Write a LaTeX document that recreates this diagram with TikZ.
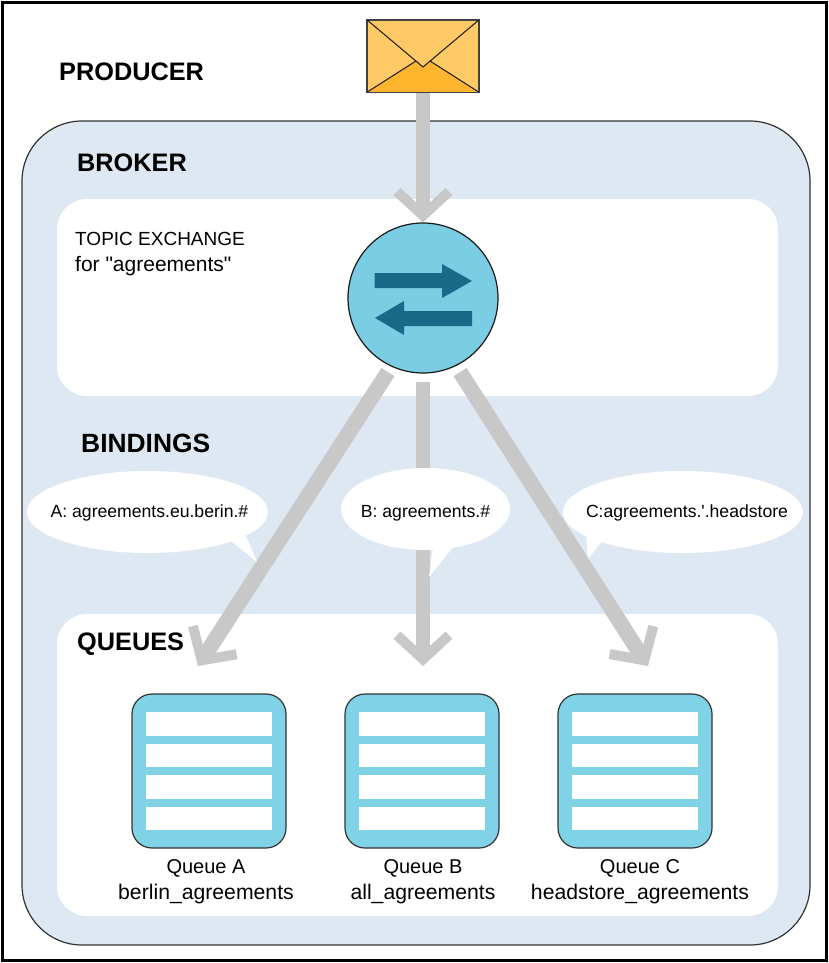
\documentclass[tikz,border=0pt]{standalone}
\usepackage{fontspec}
\setmainfont{Liberation Sans}
\newfontfamily\plainf{Liberation Sans}
\usetikzlibrary{arrows.meta,shapes.geometric,calc}
\definecolor{brokerblue}{HTML}{DDE8F2}
\definecolor{flowgray}{HTML}{C8C8C8}
\definecolor{exchblue}{HTML}{7ACDE3}
\definecolor{queueblue}{HTML}{80D2E6}
\definecolor{darkteal}{HTML}{176B88}
\definecolor{envlight}{HTML}{FFC966}
\definecolor{envdark}{HTML}{FFB62E}
\tikzset{
  x=1pt,y=-1pt,
  heading/.style={anchor=base west,inner sep=0,font=\fontsize{25.3}{25.3}\selectfont\bfseries},
  panel/.style={fill=white,rounded corners=30pt},
  flow/.style={draw=flowgray,line width=14pt,-{Straight Barb[length=24pt,width=52pt,line width=10pt]}},
  flowdiag/.style={draw=flowgray,line width=15.5pt,-{Straight Barb[length=24pt,width=52pt,line width=10pt]}},
  bubble/.style={ellipse,fill=white,inner sep=0},
  bubtext/.style={inner sep=0,text height=10pt,text depth=0pt,font=\fontsize{17.6}{17.6}\selectfont\plainf},
  store/.style={rounded corners=20pt,draw=black!80,line width=1.2pt,fill=queueblue},
  storerow/.style={fill=white,minimum width=126pt,minimum height=23.5pt,inner sep=0},
  storebox/.style={rectangle,minimum width=154pt,minimum height=154pt,inner sep=0,store},
  qlabel/.style={anchor=base,inner sep=0,font=\fontsize{20}{20}\selectfont},
  qname/.style={anchor=base,inner sep=0,font=\fontsize{21.2}{21.2}\selectfont},
  txt/.style={anchor=base west,inner sep=0,font=\fontsize{19}{19}\selectfont\plainf},
}
\newcommand{\queuerows}[1]{%
  \node[storerow] (#1r1) at ($(#1)+(0,-47)$) {};
  \node[storerow] (#1r2) at ($(#1)+(0,-15.5)$) {};
  \node[storerow] (#1r3) at ($(#1)+(0,16)$) {};
  \node[storerow] (#1r4) at ($(#1)+(0,47.5)$) {};
}
\begin{document}
\begin{tikzpicture}
\useasboundingbox (0,0) rectangle (829,963);
\fill[white] (0,0) rectangle (829,963);
\draw[black,line width=3pt] (2.5,2.5) rectangle (826.5,960.5);
% broker
\draw[fill=brokerblue,draw=black!80,line width=1.2pt,rounded corners=60pt] (22,121) rectangle (810,945);
\fill[panel] (57,199) rectangle (778,396);
\fill[panel] (57,614) rectangle (778,916);
% envelope
\node[rectangle,draw=black!75,line width=1.2pt,fill=envlight,minimum width=112pt,minimum height=72pt,inner sep=0] (env) at (423,56) {};
\fill[envdark] (env.south west) -- (416,61) -- (423,67) -- (430,61) -- (env.south east) -- cycle;
\draw[black!85,line width=1.1pt,line join=miter] (env.north west) -- (423,67) -- (env.north east);
\draw[black!85,line width=1.1pt] (env.south west) -- (416,61);
\draw[black!85,line width=1.1pt] (env.south east) -- (430,61);
\draw[black!75,line width=1.2pt] (env.south west) rectangle (env.north east);
% exchange
\node[circle,draw=black!90,line width=1.2pt,fill=exchblue,minimum size=150pt,inner sep=0] (exch) at (423,298) {};
\fill[darkteal] (374.5,273) -- (442,273) -- (442,264) -- (472,281) -- (442,298) -- (442,288) -- (374.5,288) -- cycle;
\fill[darkteal] (472,311) -- (404,311) -- (404,301) -- (375,318) -- (404,335) -- (404,326) -- (472,326) -- cycle;
% connector ends
\coordinate (startA) at (388,372);
\coordinate (startB) at (423,382);
\coordinate (startC) at (460,372);
\coordinate (tipA) at (198,666);
\coordinate (tipB) at (423,666);
\coordinate (tipC) at (648,666);
\draw[flow] (env.south) -- (exch.north);
\draw[flowdiag] (startA) -- (tipA);
\draw[flow] (startB) -- (tipB);
\draw[flowdiag] (startC) -- (tipC);
% bubbles
\node[bubble,minimum width=241pt,minimum height=82pt] (bubA) at (147.5,512) {};
\fill[white] (230,540) -- (257,562) -- (245,534) -- cycle;
\node[bubble,minimum width=169pt,minimum height=82pt] (bubB) at (425.5,509) {};
\fill[white] (433,548) -- (429,577) -- (454,546) -- cycle;
\node[bubble,minimum width=240pt,minimum height=82pt] (bubC) at (683,512) {};
\fill[white] (586,534) -- (588,559) -- (602,541) -- cycle;
\node[bubtext] (lblA) at (149.5,512) {A: agreements.eu.berin.\#};
\node[bubtext] (lblB) at (425.5,512) {B: agreements.\#};
\node[bubtext] (lblC) at (687,512) {C:agreements.'.headstore};
% queues
\node[storebox] (qa) at (209,771) {};
\node[storebox] (qb) at (422,771) {};
\node[storebox] (qc) at (635,771) {};
\queuerows{qa}\queuerows{qb}\queuerows{qc}
\node[qlabel] (qat) at (206,873) {Queue A};
\node[qname] (qan) at (206,899) {berlin\_agreements};
\node[qlabel] (qbt) at (423,873) {Queue B};
\node[qname] (qbn) at (423,899) {all\_agreements};
\node[qlabel] (qct) at (640,873) {Queue C};
\node[qname] (qcn) at (640,899) {headstore\_agreements};
% headings
\node[heading] (hp) at (59,81) {PRODUCER};
\node[heading] (hbr) at (77,171) {BROKER};
\node[heading,font=\fontsize{26.4}{26.4}\selectfont\bfseries] (hbi) at (81,452) {BINDINGS};
\node[heading] (hq) at (77,650) {QUEUES};
\node[txt] (t1) at (75,245) {TOPIC EXCHANGE};
\node[txt,font=\fontsize{21}{21}\selectfont\plainf] (t2) at (75,271) {for "agreements"};
\end{tikzpicture}
\end{document}
